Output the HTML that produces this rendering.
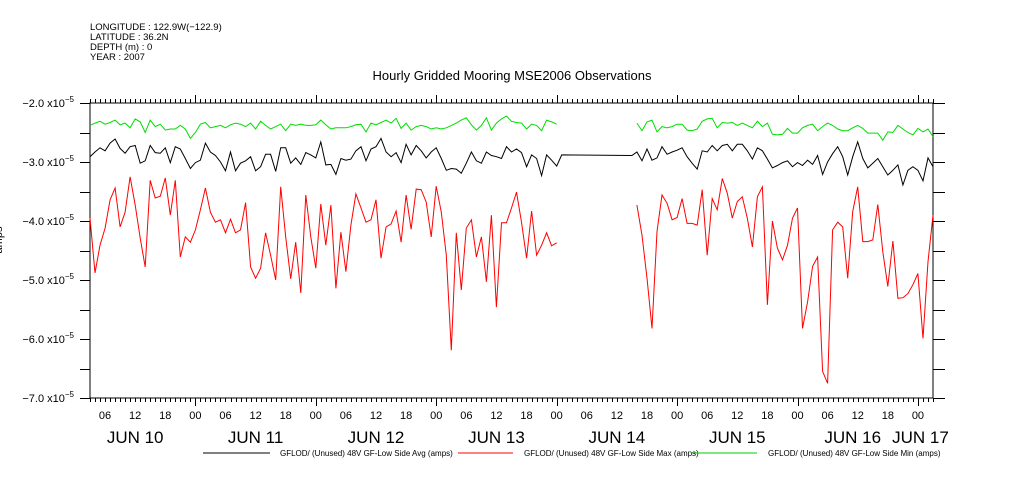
<!DOCTYPE html>
<html><head><meta charset="utf-8"><style>
html,body{margin:0;padding:0;background:#fff;}
svg{display:block;font-family:"Liberation Sans",sans-serif;}
</style></head><body>
<svg id="chart" width="1009" height="504" viewBox="0 0 1009 504">
<g font-size="9.5" fill="#000">
<text x="90" y="30">LONGITUDE : 122.9W(−122.9)</text>
<text x="90" y="40">LATITUDE : 36.2N</text>
<text x="90" y="50">DEPTH (m) : 0</text>
<text x="90" y="60">YEAR : 2007</text>
</g>
<text x="512" y="80" font-size="13" text-anchor="middle">Hourly Gridded Mooring MSE2006 Observations</text>
<text transform="translate(2,240) rotate(-90)" font-size="11" text-anchor="middle">amps</text>
<g id="axes"></g>
<g id="series"></g>
<g id="legend" font-size="8">
<line x1="203" y1="453" x2="270" y2="453" stroke="#000"/>
<text x="280" y="456">GFLOD/ (Unused) 48V GF-Low Side Avg (amps)</text>
<line x1="458" y1="453" x2="513" y2="453" stroke="#f00"/>
<text x="524" y="456">GFLOD/ (Unused) 48V GF-Low Side Max (amps)</text>
<line x1="692" y1="453" x2="757" y2="453" stroke="#0c0"/>
<text x="768" y="456">GFLOD/ (Unused) 48V GF-Low Side Min (amps)</text>
</g>
</svg>
<script>
// values in units of 1e-5 amps; hourly, hours counted from JUN 10 00:00
const seg1Start = 3;
const seg2Start = 112;
const blackSeg2Start = 111;
const yTicks = [-2, -3, -4, -5, -6, -7];
const hourLabels = ["00", "06", "12", "18"];
const dayLabels = ["JUN 10", "JUN 11", "JUN 12", "JUN 13", "JUN 14", "JUN 15", "JUN 16", "JUN 17"];
const dayLabelHours = [12, 36, 60, 84, 108, 132, 155, 168.5];
const avgSeg1 = [-2.91,-2.83,-2.76,-2.81,-2.68,-2.61,-2.77,-2.85,-2.74,-2.72,-3.02,-2.98,-2.72,-2.84,-2.85,-2.76,-3.01,-2.74,-2.78,-2.94,-3.11,-3.01,-2.97,-2.68,-2.83,-2.89,-3.00,-3.15,-2.83,-3.15,-3.02,-2.98,-2.91,-3.15,-3.08,-2.87,-2.87,-3.16,-2.76,-2.76,-3.02,-2.93,-3.04,-2.84,-2.88,-2.93,-2.66,-3.05,
-3.04,-3.21,-2.94,-2.97,-2.95,-2.81,-2.74,-2.98,-2.78,-2.74,-2.60,-2.83,-2.91,-2.84,-3.01,-2.70,-2.88,-2.72,-2.81,-2.93,-2.83,-2.76,-2.94,-3.14,-3.11,-3.12,-3.19,-3.02,-2.83,-2.98,-3.02,-2.83,-2.89,-2.91,-2.94,-2.74,-2.83,-2.78,-2.84,-3.08,-2.88,-2.94,-3.23,-2.88,-2.97,-3.07,-2.88];
const avgSeg2 = [-2.89,-2.83,-2.98,-2.78,-2.97,-2.93,-2.74,-2.87,-2.83,-2.80,-2.76,-2.91,-3.02,-3.12,-2.81,-2.83,-2.72,-2.81,-2.72,-2.70,-2.81,-2.70,-2.70,-2.81,-2.95,-2.76,-2.81,-2.95,-3.10,-3.06,-3.01,-2.98,-3.08,-3.01,-3.06,-2.97,-3.04,-2.89,-3.21,-3.00,-2.86,-2.74,-2.91,-3.22,-2.91,-2.66,-2.94,-3.10,-3.02,-2.94,-3.08,-3.22,-3.14,-3.05,-3.39,-3.14,-3.08,-3.14,-3.32,-2.93,-3.08];
const maxSeg1 = [-3.95,-4.88,-4.41,-4.12,-3.64,-3.44,-4.10,-3.85,-3.25,-3.73,-4.29,-4.78,-3.31,-3.61,-3.58,-3.27,-3.90,-3.31,-4.61,-4.27,-4.36,-4.15,-3.81,-3.44,-3.85,-4.02,-3.98,-4.20,-3.97,-4.20,-4.15,-3.69,-4.78,-4.97,-4.80,-4.20,-4.58,-5.00,-3.42,-4.27,-4.98,-4.36,-5.22,-3.56,-4.27,-4.80,-3.71,-4.41,
-3.73,-5.14,-4.19,-4.86,-4.07,-3.54,-3.78,-4.02,-3.98,-3.64,-4.63,-4.10,-4.05,-3.83,-4.36,-3.56,-4.14,-3.46,-3.47,-3.68,-4.27,-3.41,-3.85,-4.58,-6.19,-4.20,-5.17,-4.12,-3.98,-4.61,-4.27,-5.03,-3.90,-5.46,-4.03,-4.03,-3.78,-3.51,-4.02,-4.63,-3.83,-4.58,-4.41,-4.20,-4.42,-4.37];
const maxSeg2 = [-3.73,-4.24,-4.97,-5.82,-4.18,-3.56,-3.70,-3.98,-3.94,-3.62,-4.04,-4.04,-4.07,-3.47,-4.58,-3.62,-3.81,-3.28,-3.53,-3.95,-3.67,-3.59,-3.95,-4.44,-3.59,-3.42,-5.42,-4.00,-4.46,-4.66,-4.41,-3.95,-3.78,-5.82,-5.37,-4.77,-4.61,-6.55,-6.75,-4.15,-4.02,-4.10,-4.97,-3.84,-3.42,-4.35,-4.35,-4.32,-3.72,-4.52,-5.11,-4.34,-5.31,-5.30,-5.23,-5.08,-4.89,-5.99,-4.69,-3.90];
const minSeg1 = [-2.38,-2.34,-2.31,-2.36,-2.33,-2.29,-2.37,-2.34,-2.42,-2.27,-2.32,-2.50,-2.29,-2.40,-2.36,-2.46,-2.44,-2.44,-2.38,-2.44,-2.60,-2.50,-2.36,-2.33,-2.42,-2.40,-2.38,-2.42,-2.37,-2.34,-2.36,-2.40,-2.34,-2.44,-2.31,-2.38,-2.44,-2.40,-2.36,-2.47,-2.36,-2.38,-2.36,-2.38,-2.38,-2.37,-2.29,-2.37,
-2.44,-2.42,-2.42,-2.42,-2.40,-2.37,-2.36,-2.49,-2.34,-2.37,-2.33,-2.29,-2.34,-2.26,-2.43,-2.34,-2.46,-2.40,-2.38,-2.40,-2.44,-2.42,-2.44,-2.42,-2.38,-2.34,-2.29,-2.25,-2.37,-2.46,-2.38,-2.25,-2.46,-2.34,-2.27,-2.22,-2.31,-2.33,-2.34,-2.44,-2.36,-2.38,-2.47,-2.29,-2.32,-2.36];
const minSeg2 = [-2.34,-2.47,-2.32,-2.29,-2.49,-2.40,-2.42,-2.40,-2.36,-2.36,-2.46,-2.47,-2.44,-2.31,-2.27,-2.26,-2.42,-2.33,-2.34,-2.33,-2.38,-2.34,-2.38,-2.42,-2.31,-2.40,-2.34,-2.53,-2.54,-2.53,-2.43,-2.51,-2.51,-2.42,-2.38,-2.36,-2.47,-2.40,-2.34,-2.38,-2.44,-2.47,-2.47,-2.42,-2.38,-2.43,-2.51,-2.51,-2.51,-2.63,-2.49,-2.50,-2.38,-2.44,-2.50,-2.54,-2.43,-2.49,-2.44,-2.57];

const NS = "http://www.w3.org/2000/svg";
const L = 90, R = 933, T = 103, B = 398;
const H0 = 3, H1 = 171, VMAX = -2, VMIN = -7;
function xs(h){ return L + (h - H0) * (R - L) / (H1 - H0); }
function ys(v){ return T + (VMAX - v) * (B - T) / (VMAX - VMIN); }
function mk(tag, attrs, parent){ const e = document.createElementNS(NS, tag); for (const k in attrs) e.setAttribute(k, attrs[k]); parent.appendChild(e); return e; }
const axes = document.getElementById("axes");
const series = document.getElementById("series");

const frame = mk("rect", {x:L, y:T, width:R-L, height:B-T, fill:"none", stroke:"#000", "stroke-width":1}, axes);



for (let h = H0; h <= H1; h++) {
  const x = Math.round(xs(h)) + 0.5;
  const len = (h % 24 === 0) ? 8 : 4;
  const tb = mk("line", {x1:x, y1:B, x2:x, y2:B+len, stroke:"#000"}, axes);
  
  
  const tt = mk("line", {x1:x, y1:T, x2:x, y2:T-len, stroke:"#000"}, axes);
  
  
  if (h % 6 === 0) {
    const lab = mk("text", {x:xs(h), y:419, "font-size":11, "text-anchor":"middle"}, axes);
    lab.textContent = hourLabels[(h % 24) / 6];
    
    
  }
}
dayLabels.forEach((d, i) => {
  const t = mk("text", {x:xs(dayLabelHours[i]), y:443, "font-size":17, "text-anchor":"middle"}, axes);
  t.textContent = d;
  
  
});
for (let v = VMAX; v >= VMIN; v -= 0.5) {
  const y = Math.round(ys(v)) + 0.5;
  const tl = mk("line", {x1:80, y1:y, x2:L, y2:y, stroke:"#000"}, axes);
  
  
  const tr = mk("line", {x1:R, y1:y, x2:R+12, y2:y, stroke:"#000"}, axes);
  
  
}
yTicks.forEach(v => {
  const t = mk("text", {x:74, y:ys(v)+4, "font-size":11, "text-anchor":"end"}, axes);
  t.innerHTML = "−" + Math.abs(v).toFixed(1) + ' x10<tspan dy="-5" font-size="8">−5</tspan>';
  
  
});

function pts(arr, start){ return arr.map((v, i) => xs(start + i).toFixed(1) + "," + ys(v).toFixed(1)).join(" "); }
function line(p, color, name){
  const e = mk("polyline", {points:p, fill:"none", stroke:color, "stroke-width":1}, series);
  
  
}
line(pts(minSeg1, seg1Start), "#00dd00", "min-line-seg1");
line(pts(minSeg2, seg2Start), "#00dd00", "min-line-seg2");
line(pts(avgSeg1, seg1Start) + " " + pts(avgSeg2, blackSeg2Start), "#000", "avg-line");
line(pts(maxSeg1, seg1Start), "#ff0000", "max-line-seg1");
line(pts(maxSeg2, seg2Start), "#ff0000", "max-line-seg2");
</script>
</body></html>
